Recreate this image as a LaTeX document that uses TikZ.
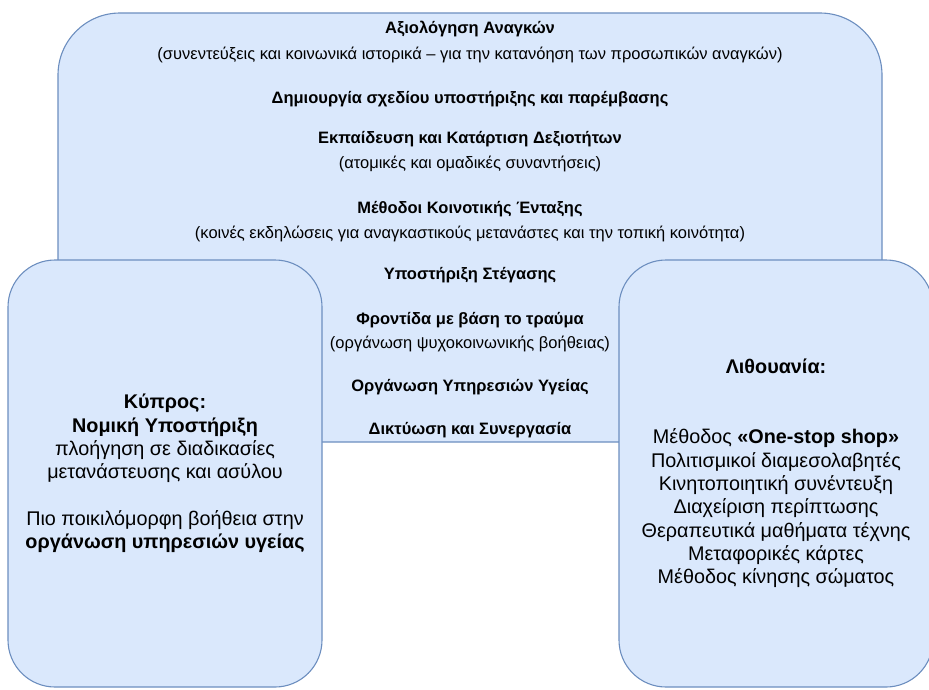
\documentclass[tikz,border=0pt]{standalone}
\usepackage{fontspec}
\setmainfont{Liberation Sans}
\definecolor{boxfill}{HTML}{DAE8FC}
\definecolor{boxline}{HTML}{6C8EBF}

\begin{document}
\begin{tikzpicture}[x=1pt,y=-1pt,
    box/.style={draw=boxline,fill=boxfill,line width=1.1pt},
    head/.style={anchor=base,font=\fontsize{16.5}{20}\selectfont\bfseries},
    note/.style={anchor=base,font=\fontsize{16.5}{20}\selectfont},
    side/.style={align=center,font=\fontsize{19.8}{23.3}\selectfont}]
    \useasboundingbox (0,0) rectangle (929,689);
    \clip (0,0) rectangle (929,689);
    % main box
    \node[box,minimum width=824pt,minimum height=429pt,rounded corners=62pt] (needs) at (470,227.5) {};
    \node[head] (assess) at (470,33) {Αξιολόγηση Αναγκών};
    \node[note] (assessnote) at (470,59) {(συνεντεύξεις και κοινωνικά ιστορικά – για την κατανόηση των προσωπικών αναγκών)};
    \node[head] (plan) at (470,103) {Δημιουργία σχεδίου υποστήριξης και παρέμβασης};
    \node[head] (training) at (470,143) {Εκπαίδευση και Κατάρτιση Δεξιοτήτων};
    \node[note] (trainingnote) at (470,168) {(ατομικές και ομαδικές συναντήσεις)};
    \node[head] (community) at (470,213) {Μέθοδοι Κοινοτικής Ένταξης};
    \node[note] (communitynote) at (470,238) {(κοινές εκδηλώσεις για αναγκαστικούς μετανάστες και την τοπική κοινότητα)};
    \node[head] (housing) at (470,279) {Υποστήριξη Στέγασης};
    \node[head] (trauma) at (470,324) {Φροντίδα με βάση το τραύμα};
    \node[note] (traumanote) at (470,348) {(οργάνωση ψυχοκοινωνικής βοήθειας)};
    \node[head] (health) at (470,391) {Οργάνωση Υπηρεσιών Υγείας};
    \node[head] (network) at (470,434) {Δικτύωση και Συνεργασία};
    % country boxes
    \node[box,side,minimum width=314pt,minimum height=427pt,rounded corners=47pt] (cyprus) at (165,473.5)
        {\textbf{Κύπρος:}\\ \textbf{Νομική Υποστήριξη}\\ πλοήγηση σε διαδικασίες\\ μετανάστευσης και ασύλου\\[23.3pt]
         Πιο ποικιλόμορφη βοήθεια στην\\ \textbf{οργάνωση υπηρεσιών υγείας}};
    \node[box,side,minimum width=314pt,minimum height=427pt,rounded corners=47pt] (lithuania) at (776,473.5)
        {\textbf{Λιθουανία:}\\[46.6pt] Μέθοδος \textbf{«One-stop shop»}\\ Πολιτισμικοί διαμεσολαβητές\\
         Κινητοποιητική συνέντευξη\\ Διαχείριση περίπτωσης\\ Θεραπευτικά μαθήματα τέχνης\\
         Μεταφορικές κάρτες\\ Μέθοδος κίνησης σώματος};
\end{tikzpicture}
\end{document}
